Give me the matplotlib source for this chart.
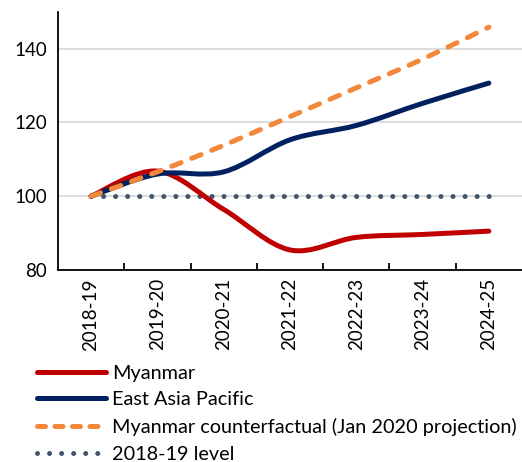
import numpy as np
import matplotlib.pyplot as plt
from matplotlib.path import Path
from matplotlib.patches import PathPatch
from matplotlib.lines import Line2D

plt.rcParams['font.family'] = ['Lato', 'DejaVu Sans']

years = ['2018-19', '2019-20', '2020-21', '2021-22', '2022-23', '2023-24', '2024-25']
myanmar = [100, 106.8, 96.4, 85.4, 88.8, 89.6, 90.5]
eap = [100, 106.0, 106.6, 115.3, 119.2, 125.2, 130.7]
counterfactual = [100, 106.6, 113.8, 121.6, 129.4, 137.2, 145.9]
level = [100] * len(years)

labels = ['Myanmar', 'East Asia Pacific',
          'Myanmar counterfactual (Jan 2020 projection)', '2018-19 level']


def smooth_path(y):
    # excel-ish smoothed line as cubic bezier
    x = np.arange(len(y), dtype=float)
    y = np.asarray(y, dtype=float)
    pts = np.column_stack([x, y])
    p = np.vstack([pts[0], pts, pts[-1]])
    verts = [pts[0]]
    codes = [Path.MOVETO]
    for i in range(len(pts) - 1):
        p0, p1, p2, p3 = p[i], p[i + 1], p[i + 2], p[i + 3]
        c1 = p1 + (p2 - p0) / 6
        c2 = p2 - (p3 - p1) / 6
        verts += [c1, c2, p2]
        codes += [Path.CURVE4] * 3
    return Path(verts, codes)


fig = plt.figure(figsize=(5.22, 4.62), dpi=100)
ax = fig.add_axes([0.111, 0.416, 0.889, 0.558])

red = '#C00000'
navy = '#002060'
orange = '#F4883A'
grey = '#44546A'

dots = (0, (0.01, 2.4))
dashes = (0, (2.0, 2.3))

ax.plot(range(len(years)), level, color=grey, lw=3.6,
        linestyle=dots, dash_capstyle='round', zorder=3)
ax.add_patch(PathPatch(smooth_path(myanmar), fill=False, ec=red, lw=3.6,
                       capstyle='round', zorder=4))
ax.add_patch(PathPatch(smooth_path(eap), fill=False, ec=navy, lw=3.6,
                       capstyle='round', zorder=5))
ax.add_patch(PathPatch(smooth_path(counterfactual), fill=False, ec=orange, lw=3.6,
                       linestyle=dashes, capstyle='round', zorder=6))

ax.set_xlim(-0.5, len(years) - 0.5)
ax.set_ylim(80, 150)
ax.set_yticks([80, 100, 120, 140])
ax.set_xticks(range(len(years)))
ax.set_xticklabels(years, rotation=90)
ax.set_xticks(np.arange(0.5, len(years) - 0.5), minor=True)
ax.tick_params(axis='x', which='major', length=0, pad=6, labelsize=13.5)
ax.tick_params(axis='x', which='minor', length=5, width=1.3, direction='in')
ax.tick_params(axis='y', length=0, pad=8, labelsize=13.5)
ax.grid(axis='y', color='#D9D9D9', lw=1.3)
ax.set_axisbelow(True)
for s in ['top', 'right']:
    ax.spines[s].set_visible(False)
for s in ['left', 'bottom']:
    ax.spines[s].set_linewidth(1.3)
    ax.spines[s].set_zorder(7)

handles = [
    Line2D([], [], color=red, lw=3.6, solid_capstyle='round'),
    Line2D([], [], color=navy, lw=3.6, solid_capstyle='round'),
    Line2D([], [], color=orange, lw=3.6, linestyle=(0, (1.6, 1.9)), dash_capstyle='round'),
    Line2D([], [], color=grey, lw=3.6, linestyle=(0, (0.01, 2.4)), dash_capstyle='round'),
]
fig.legend(handles, labels, loc='upper left', bbox_to_anchor=(0.07, 0.211),
           frameon=False, fontsize=14.3, handlelength=3.5, handletextpad=0.3,
           labelspacing=0.5, borderpad=0, borderaxespad=0)

fig.savefig('out.png', dpi=100)
